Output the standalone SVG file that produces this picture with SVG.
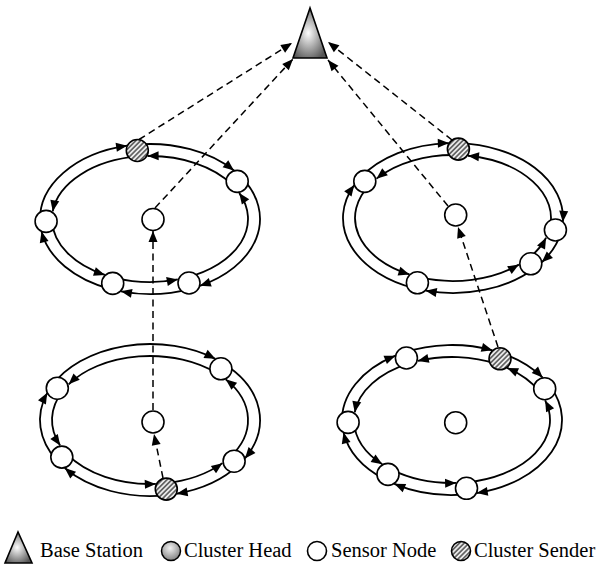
<svg xmlns="http://www.w3.org/2000/svg" width="598" height="573" viewBox="0 0 598 573">
  <defs>
    <style>
      .ring{fill:none;stroke:#000;stroke-width:1.8;marker-end:url(#ah)}
      .link{fill:none;stroke:#000;stroke-width:1.5;stroke-dasharray:7 4.5;marker-end:url(#ah)}
      .node{fill:#fff;stroke:#000;stroke-width:1.6}
      .sender{fill:url(#hatch);stroke:#000;stroke-width:1.6}
      .bs{fill:url(#cone);stroke:#000;stroke-width:1.6;stroke-linejoin:miter}
      .head{fill:url(#head);stroke:#000;stroke-width:1.5}
      .legend{font-family:"Liberation Serif","Times New Roman",serif;font-size:20.5px;fill:#000}
    </style>
    <marker id="ah" markerUnits="userSpaceOnUse" viewBox="-12 -5 13 10" markerWidth="13" markerHeight="10" refX="0" refY="0" orient="auto">
      <path d="M0,0 L-11,-4.5 L-11,4.5 Z" fill="#000"/>
    </marker>
    <pattern id="hatch" patternUnits="userSpaceOnUse" width="3.4" height="3.4" patternTransform="rotate(45)">
      <rect width="3.4" height="3.4" fill="#ececec"/>
      <line x1="1.7" y1="0" x2="1.7" y2="3.4" stroke="#2a2a2a" stroke-width="1.2"/>
    </pattern>
    <radialGradient id="cone" cx="0.45" cy="0.5" r="0.6">
      <stop offset="0" stop-color="#fdfdfd"/>
      <stop offset="1" stop-color="#555"/>
    </radialGradient>
    <radialGradient id="head" cx="0.45" cy="0.35" r="0.7">
      <stop offset="0" stop-color="#f2f2f2"/>
      <stop offset="1" stop-color="#7a7a7a"/>
    </radialGradient>
  </defs>

  <g id="connectors">
    <!-- cluster 1 ring: outer clockwise, inner counter-clockwise -->
    <path class="ring" d="M136.59 144.56 A110 75 0 0 1 233.99 170.56"/>
    <path class="ring" d="M242.26 178.15 A110 75 0 0 1 199.86 285.86"/>
    <path class="ring" d="M191.21 288.54 A110 75 0 0 1 120.91 291.33"/>
    <path class="ring" d="M110.58 289.02 A110 75 0 0 1 41.53 231.46"/>
    <path class="ring" d="M40.07 221.62 A110 75 0 0 1 127.11 145.64"/>
    <path class="ring" d="M232.19 184.69 A98 63 0 0 0 147.62 156.02"/>
    <path class="ring" d="M186.71 277.41 A98 63 0 0 0 239.19 192.89"/>
    <path class="ring" d="M114.88 277.82 A98 63 0 0 0 177.78 279.42"/>
    <path class="ring" d="M52.06 221.20 A98 63 0 0 0 104.84 274.91"/>
    <path class="ring" d="M138.05 156.47 A98 63 0 0 0 52.73 211.30"/>

    <!-- cluster 2 ring -->
    <path class="ring" d="M458.75 143.10 A110 75 0 0 1 562.85 221.89"/>
    <path class="ring" d="M561.33 231.02 A110 75 0 0 1 541.81 262.25"/>
    <path class="ring" d="M535.26 267.79 A110 75 0 0 1 425.70 290.65"/>
    <path class="ring" d="M415.38 288.48 A110 75 0 0 1 354.27 184.92"/>
    <path class="ring" d="M359.72 178.26 A110 75 0 0 1 448.84 143.05"/>
    <path class="ring" d="M549.51 228.94 A98 63 0 0 0 468.00 155.74"/>
    <path class="ring" d="M526.28 259.83 A98 63 0 0 0 546.07 237.74"/>
    <path class="ring" d="M419.48 277.20 A98 63 0 0 0 518.92 264.61"/>
    <path class="ring" d="M369.90 184.62 A98 63 0 0 0 409.44 274.44"/>
    <path class="ring" d="M458.13 155.09 A98 63 0 0 0 376.46 178.66"/>

    <!-- cluster 3 ring -->
    <path class="ring" d="M51.99 385.50 A110 76 0 0 1 215.35 358.87"/>
    <path class="ring" d="M225.02 364.41 A110 76 0 0 1 244.92 458.41"/>
    <path class="ring" d="M238.99 464.67 A110 76 0 0 1 176.61 493.74"/>
    <path class="ring" d="M167.20 495.07 A110 76 0 0 1 64.76 468.04"/>
    <path class="ring" d="M56.72 460.27 A110 76 0 0 1 47.27 392.82"/>
    <path class="ring" d="M216.84 373.19 A98 64 0 0 0 68.70 384.28"/>
    <path class="ring" d="M229.28 457.62 A98 64 0 0 0 225.69 379.35"/>
    <path class="ring" d="M165.33 483.21 A98 64 0 0 0 222.39 463.14"/>
    <path class="ring" d="M66.90 453.91 A98 64 0 0 0 155.83 483.88"/>
    <path class="ring" d="M62.68 390.94 A98 64 0 0 0 60.15 445.55"/>

    <!-- cluster 4 ring -->
    <path class="ring" d="M502.79 353.47 A110 75 0 0 1 542.68 377.55"/>
    <path class="ring" d="M550.01 385.95 A110 75 0 0 1 476.75 493.08"/>
    <path class="ring" d="M467.31 494.27 A110 75 0 0 1 394.29 483.85"/>
    <path class="ring" d="M384.27 479.10 A110 75 0 0 1 343.53 432.46"/>
    <path class="ring" d="M342.07 422.62 A110 75 0 0 1 395.39 355.69"/>
    <path class="ring" d="M403.78 352.59 A110 75 0 0 1 492.48 350.26"/>
    <path class="ring" d="M539.32 391.40 A98 63 0 0 0 507.15 367.92"/>
    <path class="ring" d="M465.64 482.39 A98 63 0 0 0 545.13 400.38"/>
    <path class="ring" d="M391.66 469.64 A98 63 0 0 0 456.11 482.94"/>
    <path class="ring" d="M354.06 422.20 A98 63 0 0 0 382.30 464.29"/>
    <path class="ring" d="M409.04 363.38 A98 63 0 0 0 354.73 412.30"/>
    <path class="ring" d="M497.25 364.12 A98 63 0 0 0 417.77 360.97"/>

    <!-- dashed forwarding links -->
    <path class="link" d="M139 139.5 L292 43"/>
    <path class="link" d="M155 208 L293 59"/>
    <path class="link" d="M452 140 L328 42"/>
    <path class="link" d="M448 206 L328 60"/>
    <path class="link" d="M498 347 L458 227"/>
    <path class="link" d="M153 410 L153 231"/>
    <path class="link" d="M163 478 L154 434"/>
  </g>

  <g id="base-station">
    <polygon class="bs" points="310,8 293,58 327,58"/>
  </g>

  <g id="cluster-1">
    <circle id="c1-sender" class="sender" cx="137.3" cy="150.5" r="11"/>
    <circle id="c1-n1" class="node" cx="237.2" cy="181.4" r="11"/>
    <circle id="c1-n2" class="node" cx="189" cy="283" r="11"/>
    <circle id="c1-n3" class="node" cx="112.7" cy="283.4" r="11"/>
    <circle id="c1-n4" class="node" cx="46.1" cy="221.4" r="11"/>
    <circle id="c1-head" class="node" cx="153" cy="219.5" r="11"/>
  </g>

  <g id="cluster-2">
    <circle id="c2-sender" class="sender" cx="458.4" cy="149.1" r="11"/>
    <circle id="c2-n1" class="node" cx="555.4" cy="230" r="11"/>
    <circle id="c2-n2" class="node" cx="530.8" cy="263.8" r="11"/>
    <circle id="c2-n3" class="node" cx="417.4" cy="282.8" r="11"/>
    <circle id="c2-n4" class="node" cx="364.8" cy="181.4" r="11"/>
    <circle id="c2-head" class="node" cx="455.7" cy="215" r="11"/>
  </g>

  <g id="cluster-3">
    <circle id="c3-sender" class="sender" cx="166.3" cy="489.1" r="11"/>
    <circle id="c3-n1" class="node" cx="57.3" cy="388.2" r="11"/>
    <circle id="c3-n2" class="node" cx="220.9" cy="368.8" r="11"/>
    <circle id="c3-n3" class="node" cx="234.1" cy="461.2" r="11"/>
    <circle id="c3-n4" class="node" cx="61.8" cy="457.1" r="11"/>
    <circle id="c3-head" class="node" cx="153" cy="422" r="11"/>
  </g>

  <g id="cluster-4">
    <circle id="c4-sender" class="sender" cx="500" cy="358.8" r="11"/>
    <circle id="c4-n1" class="node" cx="544.7" cy="388.7" r="11"/>
    <circle id="c4-n2" class="node" cx="466.5" cy="488.3" r="11"/>
    <circle id="c4-n3" class="node" cx="388" cy="474.4" r="11"/>
    <circle id="c4-n4" class="node" cx="348.1" cy="422.4" r="11"/>
    <circle id="c4-n5" class="node" cx="406.4" cy="358" r="11"/>
    <circle id="c4-head" class="node" cx="455.7" cy="422.7" r="11"/>
  </g>

  <g id="legend">
    <polygon class="bs" points="18,532 5,563 32,563"/>
    <text class="legend" x="40" y="557">Base Station</text>
    <circle class="head" cx="171" cy="551" r="9.5"/>
    <text class="legend" x="184" y="557">Cluster Head</text>
    <circle class="node" cx="317" cy="551" r="9.5"/>
    <text class="legend" x="331" y="557">Sensor Node</text>
    <circle class="sender" cx="461" cy="551" r="9.5"/>
    <text class="legend" x="474" y="557">Cluster Sender</text>
  </g>
</svg>
